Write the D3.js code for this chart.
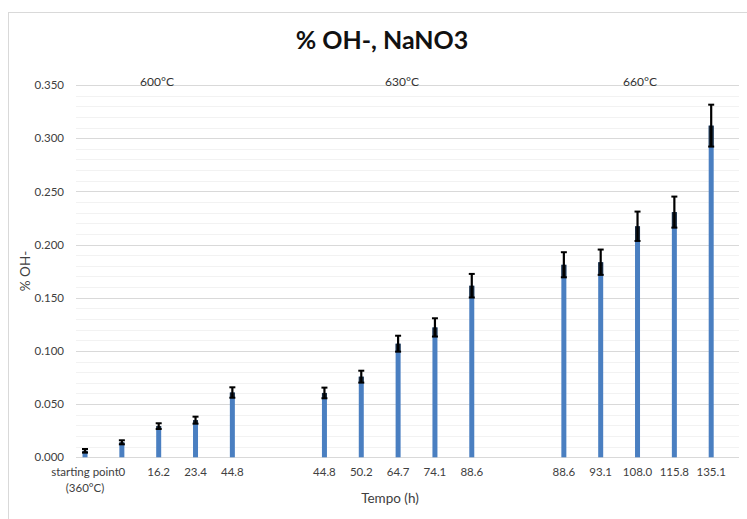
<!DOCTYPE html>
<html><head><meta charset="utf-8">
<script src="https://cdn.jsdelivr.net/npm/d3@7"></script>
<style>
body{margin:0;background:#fff;}
svg{display:block;font-family:Lato,"Open Sans",sans-serif;}
</style></head>
<body><svg id="c" width="747" height="519"></svg>
<script>
// ---- data ----
const groupLabels = ["600°C", "630°C", "660°C"];
const cat600 = ["starting point|(360°C)", "0", "16.2", "23.4", "44.8"];
const cat630 = ["44.8", "50.2", "64.7", "74.1", "88.6"];
const cat660 = ["88.6", "93.1", "108.0", "115.8", "135.1"];
const val600 = [0.0061, 0.0141, 0.0293, 0.0349, 0.0609];
const val630 = [0.0605, 0.0758, 0.1068, 0.1221, 0.1613];
const val660 = [0.1810, 0.1834, 0.2172, 0.2305, 0.3118];
const err600 = [0.0017, 0.0019, 0.0027, 0.0033, 0.0049];
const err630 = [0.0050, 0.0056, 0.0075, 0.0086, 0.0111];
const err660 = [0.0118, 0.0119, 0.0138, 0.0146, 0.0197];
const yTicks = [0, 0.05, 0.10, 0.15, 0.20, 0.25, 0.30, 0.35];
const title = "% OH-, NaNO3";
const xTitle = "Tempo (h)";
const yTitle = "% OH-";

// ---- build records ----
const groups = [
  {cats: cat600, vals: val600, errs: err600},
  {cats: cat630, vals: val630, errs: err630},
  {cats: cat660, vals: val660, errs: err660}
];
const GROUP_STEP = 6.5;
const rows = [];
groups.forEach((g, gi) => g.cats.forEach((c, i) => rows.push({
  label: c, value: g.vals[i], err: g.errs[i], slot: gi * GROUP_STEP + i
})));

const svg = d3.select("#c");
svg.append("rect").attr("width", 747).attr("height", 519).attr("fill", "#fff");
svg.append("rect").attr("x", 8.5).attr("y", 12.5).attr("width", 800).attr("height", 600)
  .attr("fill", "none").attr("stroke", "#d9d9d9").attr("stroke-width", 1);

const L = 76, R = 739, T = 85, B = 457.3;
const x = d3.scaleLinear().domain([-0.245, 17.755]).range([L, R]);
const y = d3.scaleLinear().domain([0, 0.35]).range([B, T]);

// minor gridlines
const minor = d3.range(0, 0.3501, 0.01).filter(v => Math.abs(Math.round(v * 100) % 5) !== 0);
svg.append("g").selectAll("line").data(minor).join("line")
  .attr("x1", L).attr("x2", R)
  .attr("y1", d => Math.round(y(d)) + 0.5).attr("y2", d => Math.round(y(d)) + 0.5)
  .attr("stroke", "#f2f2f2").attr("stroke-width", 1);

// y axis with major gridlines
const yAxis = d3.axisLeft(y).tickValues(yTicks).tickFormat(d3.format(".3f")).tickSize(0).tickPadding(12);
const ga = svg.append("g").attr("transform", `translate(${L},0)`).call(yAxis);
ga.select(".domain").remove();
ga.selectAll("text").attr("font-size", 11.5).attr("fill", "#404040").attr("font-family", "Lato");
svg.append("g").selectAll("line").data(yTicks).join("line")
  .attr("x1", L).attr("x2", R)
  .attr("y1", d => Math.round(y(d)) + 0.5).attr("y2", d => Math.round(y(d)) + 0.5)
  .attr("stroke", "#d9d9d9").attr("stroke-width", 1);

// bars
const BW = 5;
svg.append("g").selectAll("rect").data(rows).join("rect")
  .attr("x", d => x(d.slot) - BW / 2).attr("width", BW)
  .attr("y", d => y(d.value)).attr("height", d => y(0) - y(d.value))
  .attr("fill", "#4a7fc1");

// error bars
const eg = svg.append("g").selectAll("g").data(rows).join("g");
eg.append("rect")
  .attr("x", d => x(d.slot) - BW / 2).attr("width", BW)
  .attr("y", d => y(d.value)).attr("height", d => y(d.value - d.err) - y(d.value))
  .attr("fill", "#14202e").attr("opacity", 0.9);
eg.append("line")
  .attr("x1", d => x(d.slot)).attr("x2", d => x(d.slot))
  .attr("y1", d => y(d.value + d.err)).attr("y2", d => y(d.value - d.err))
  .attr("stroke", "#000").attr("stroke-width", 2.2);
[1, -1].forEach(s => eg.append("line")
  .attr("x1", d => x(d.slot) - 3).attr("x2", d => x(d.slot) + 3)
  .attr("y1", d => y(d.value + s * d.err)).attr("y2", d => y(d.value + s * d.err))
  .attr("stroke", "#000").attr("stroke-width", 2));

// x labels
const xl = svg.append("g").selectAll("text").data(rows).join("text")
  .attr("x", d => x(d.slot)).attr("y", 475.5)
  .attr("text-anchor", "middle").attr("font-size", 11.5).attr("fill", "#404040");
xl.each(function(d) {
  const parts = d.label.split("|");
  d3.select(this).selectAll("tspan").data(parts).join("tspan")
    .attr("x", x(d.slot)).attr("dy", (p, i) => i === 0 ? 0 : 16.5).text(p => p);
});

// group temperature labels
svg.append("g").selectAll("text").data(groupLabels).join("text")
  .attr("x", (d, i) => [157, 402, 640][i]).attr("y", 86)
  .attr("text-anchor", "middle").attr("font-size", 12).attr("fill", "#333").text(d => d);

// titles
svg.append("text").attr("x", 382).attr("y", 48.5).attr("text-anchor", "middle")
  .attr("font-size", 25).attr("font-weight", "bold").attr("fill", "#111").text(title);
svg.append("text").attr("x", 390).attr("y", 502.5).attr("text-anchor", "middle")
  .attr("font-size", 13.5).attr("fill", "#404040").text(xTitle);
svg.append("text").attr("transform", "translate(30,271) rotate(-90)").attr("text-anchor", "middle")
  .attr("font-size", 13.5).attr("fill", "#404040").text(yTitle);
</script></body></html>
